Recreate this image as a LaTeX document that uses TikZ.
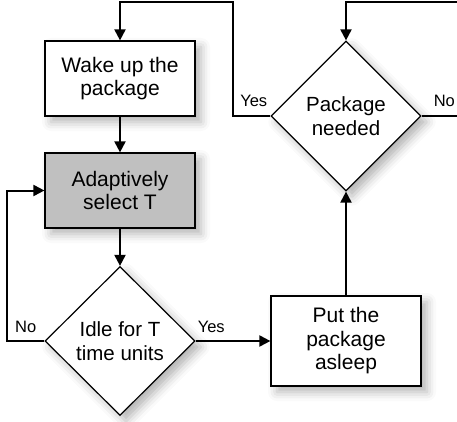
\documentclass[tikz,border=0pt]{standalone}
\usepackage{fontspec}
\setmainfont{Liberation Sans}
\usetikzlibrary{shapes.geometric,arrows.meta,shadows.blur}
\begin{document}
\begin{tikzpicture}[x=1pt,y=-1pt,
  sh/.style={blur shadow={shadow xshift=6pt,shadow yshift=-6pt,shadow blur radius=9pt,shadow opacity=30}},
  boxstyle/.style={draw=black,line width=1.2pt,rectangle,minimum width=150pt,inner sep=0pt,align=center,
    font=\fontsize{21}{23.5}\selectfont,fill=white,sh},
  decision/.style={draw=black,line width=1.2pt,diamond,inner sep=0pt,minimum width=150pt,minimum height=150pt,
    align=center,font=\fontsize{20.5}{23.5}\selectfont,fill=white,sh},
  flow/.style={line width=2pt,-{Triangle[length=11pt,width=11pt]}},
  lbl/.style={font=\fontsize{16.5}{18}\selectfont,inner sep=0pt}
]
\useasboundingbox (0,0) rectangle (457,422);
\clip (0,0) rectangle (457,422);

\node[boxstyle,minimum height=75pt] (wake) at (120,78.5) {Wake up the\\package};
\node[boxstyle,minimum height=75pt,fill={rgb,255:red,192;green,192;blue,192}] (adapt) at (120,190.5) {Adaptively\\select T};
\node[decision,minimum height=149pt] (idle) at (120,341) {Idle for T\\time units};
\node[boxstyle,minimum height=90pt] (put) at (346,341) {Put the\\package\\asleep};
\node[decision] (need) at (346,116) {Package\\needed};

\coordinate (ly) at (232.7,116);
\coordinate (lt) at (232.7,2.5);
\coordinate (ry) at (470,116);
\coordinate (rt) at (470,2.5);
\coordinate (nl) at (7.3,341);

\draw[flow] (wake.south) -- (adapt.north);
\draw[flow] (adapt.south) -- (idle.north);
\draw[flow] (idle.west) -- (nl) |- (adapt.west);
\draw[flow] (idle.east) -- (put.west);
\draw[flow] (put.north) -- (need.south);
\draw[flow] (need.west) -- (ly) -- (lt) -| (wake.north);
\draw[flow] (need.east) -- (ry) -- (rt) -| (need.north);

\node[lbl,anchor=base east] (l1) at ([xshift=-3pt,yshift=9pt]need.west) {Yes};
\node[lbl,anchor=base west] (l2) at ([xshift=12pt,yshift=9pt]need.east) {No};
\node[lbl,anchor=base east] (l3) at ([xshift=-8pt,yshift=9pt]idle.west) {No};
\node[lbl,anchor=base west] (l4) at ([xshift=2pt,yshift=9pt]idle.east) {Yes};
\end{tikzpicture}
\end{document}
